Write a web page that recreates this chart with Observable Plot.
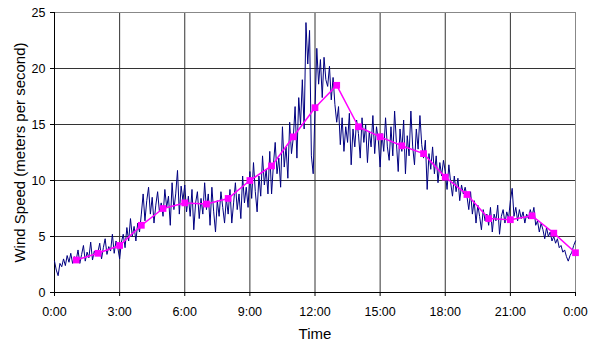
<!DOCTYPE html>
<html><head><meta charset="utf-8">
<script src="https://cdn.jsdelivr.net/npm/d3@7"></script>
<script src="https://cdn.jsdelivr.net/npm/@observablehq/plot@0.6"></script>
<style>body{margin:0;background:#fff}</style>
</head><body><div id="chart"></div>
<script>
// Raw wind speed samples, one every 5 minutes from 0:00 to 24:00 (m/s)
const rawStepMinutes = 5;
const rawSpeeds = [
  2.8, 2.0, 1.5, 2.6, 2.3, 3.0, 2.4, 3.3, 2.7, 3.5, 2.6, 3.2,
  2.9, 3.8, 2.6, 3.4, 4.2, 2.8, 3.6, 3.1, 4.5, 2.9, 3.7, 3.3,
  3.6, 4.4, 3.0, 4.0, 4.8, 3.4, 4.1, 3.7, 5.2, 3.5, 4.6, 4.0,
  3.0, 4.5, 5.2, 4.0, 5.8, 4.6, 6.6, 5.0, 5.9, 4.6, 6.2, 5.4,
  7.0, 8.8, 6.4, 8.2, 9.4, 7.0, 8.5, 6.2, 7.8, 9.0, 7.2, 8.0,
  6.8, 9.2, 7.6, 8.6, 6.0, 9.8, 7.4, 8.8, 10.9, 7.0, 9.5, 8.2,
  9.6, 7.2, 8.6, 6.8, 9.2, 5.6, 8.0, 9.0, 6.6, 8.4, 7.0, 9.8,
  7.4, 8.8, 6.0, 9.4, 7.2, 5.4, 8.2, 6.8, 9.0, 7.6, 6.2, 8.4,
  7.0, 9.2, 6.2, 8.0, 9.8, 7.4, 8.8, 6.6, 10.4, 8.0, 9.4, 7.6,
  10.8, 8.4, 11.6, 9.0, 7.2, 10.4, 8.6, 12.2, 9.6, 11.0, 8.8, 12.6,
  8.8, 11.4, 13.4, 10.6, 12.0, 9.4, 14.8, 11.2, 13.0, 10.2, 15.2, 12.4,
  13.8, 16.6, 12.0, 17.4, 15.0, 19.0, 14.6, 24.1, 20.4, 23.4, 12.2, 10.6,
  16.4, 21.8, 18.6, 20.8, 17.4, 21.0, 19.0, 18.4, 20.2, 17.2, 19.2, 16.8,
  15.2, 16.6, 13.2, 15.6, 12.6, 14.8, 13.4, 16.0, 11.4, 14.6, 13.0, 15.4,
  14.2, 12.0, 15.6, 13.4, 15.0, 11.6, 14.4, 13.0, 15.8, 12.4, 14.8, 13.6,
  11.2, 14.2, 12.6, 15.6, 13.0, 11.8, 14.8, 12.2, 16.2, 13.4, 10.8, 14.6,
  12.6, 15.4, 10.6, 14.0, 12.2, 16.2, 13.0, 11.4, 14.6, 12.8, 15.8, 13.2,
  12.0, 13.6, 9.2, 12.4, 11.0, 13.0, 10.6, 12.2, 9.8, 11.6, 10.4, 11.8,
  10.8, 9.2, 11.4, 9.8, 8.6, 10.4, 9.0, 10.2, 8.2, 9.6, 8.8, 9.4,
  8.6, 7.4, 9.0, 7.0, 8.2, 6.2, 7.8, 6.8, 5.6, 7.4, 6.4, 7.0,
  6.0, 7.6, 5.4, 7.0, 6.4, 7.8, 5.2, 6.8, 7.4, 6.2, 7.2, 6.6,
  8.2, 9.3, 6.8, 7.6, 6.4, 7.4, 6.6, 7.2, 6.2, 7.0, 6.6, 7.4,
  6.8, 7.6, 6.0, 6.4, 5.4, 6.2, 5.6, 4.8, 5.8, 5.0, 5.4, 4.6,
  5.0, 4.4, 4.8, 4.0, 4.2, 3.6, 3.8, 3.2, 2.8, 3.3, 3.6, 4.2,
  4.6
];

// Hourly averages (hour of day, m/s)
const hourlyHours = [1,2,3,4,5,6,7,8,9,10,11,12,13,14,15,16,17,18,19,20,21,22,23,24];
const hourlyAvg = [2.9, 3.5, 4.2, 6.0, 7.5, 8.0, 7.9, 8.4, 10.0, 11.3, 13.9, 16.5,
                   18.5, 14.8, 13.9, 13.1, 12.4, 10.3, 8.75, 6.6, 6.5, 6.85, 5.3, 3.55];

const xTickMinutes = [0, 180, 360, 540, 720, 900, 1080, 1260, 1440];
const xTickLabels = ["0:00", "3:00", "6:00", "9:00", "12:00", "15:00", "18:00", "21:00", "0:00"];
const yTicks = [0, 5, 10, 15, 20, 25];
const xTitle = "Time";
const yTitle = "Wind Speed (meters per second)";

const raw = rawSpeeds.map((v, i) => ({t: i * rawStepMinutes, v}));
const hourly = hourlyHours.map((h, i) => ({t: h * 60, v: hourlyAvg[i]}));

const chart = Plot.plot({
  width: 592, height: 343,
  marginLeft: 54, marginRight: 17, marginTop: 12, marginBottom: 51,
  style: {fontFamily: "'Liberation Sans', Arial, sans-serif", fontSize: "12px", color: "#000", background: "#fff"},
  x: {domain: [0, 1440]},
  y: {domain: [0, 25]},
  marks: [
    Plot.gridY(yTicks.slice(1, -1), {stroke: "#333", strokeOpacity: 1}),
    Plot.gridX(xTickMinutes.slice(1, -1), {stroke: "#333", strokeOpacity: 1}),
    Plot.frame({stroke: "#888"}),
    Plot.ruleX([0], {stroke: "#000"}),
    Plot.ruleY([0], {stroke: "#000"}),
    Plot.line(raw, {x: "t", y: "v", stroke: "#000080", strokeWidth: 1}),
    Plot.line(hourly, {x: "t", y: "v", stroke: "#ff00ff", strokeWidth: 1.5}),
    Plot.dot(hourly, {x: "t", y: "v", symbol: "square", fill: "#ff00ff", stroke: "none", r: 3.8}),
    Plot.axisX({ticks: xTickMinutes, tickFormat: d => xTickLabels[xTickMinutes.indexOf(d)], tickSize: 4, tickPadding: 11, label: null, fontSize: 12.5}),
    Plot.axisY({ticks: yTicks, tickSize: 4, tickPadding: 5, label: null, fontSize: 12.5}),
    Plot.text([xTitle], {frameAnchor: "bottom", lineAnchor: "middle", textAnchor: "middle", dy: 42, fontSize: 15}),
    Plot.text([yTitle], {frameAnchor: "left", lineAnchor: "middle", textAnchor: "middle", dx: -34, rotate: -90, fontSize: 15})
  ]
});
document.getElementById("chart").appendChild(chart);
</script>
</body></html>
